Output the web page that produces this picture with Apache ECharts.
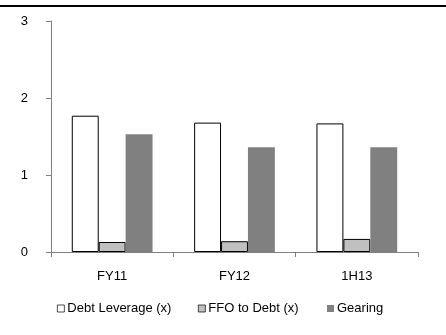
<!DOCTYPE html>
<html>
<head>
<meta charset="utf-8">
<script src="https://cdn.jsdelivr.net/npm/echarts@6/dist/echarts.min.js"></script>
<style>
html,body{margin:0;padding:0;background:#fff;}
#chart{width:446px;height:335px;}
</style>
</head>
<body>
<div id="chart"></div>
<script>
const categories = ['FY11', 'FY12', '1H13'];
const debtLeverage = [1.77, 1.68, 1.67];
const ffoToDebt = [0.13, 0.14, 0.17];
const gearing = [1.53, 1.36, 1.36];
const yTicks = [0, 1, 2, 3];
const seriesNames = ['Debt Leverage (x)', 'FFO to Debt (x)', 'Gearing'];

const FONT = '"Liberation Sans", Arial, sans-serif';
const legendLefts = [52, 193, 322];
const chart = echarts.init(document.getElementById('chart'), null, {renderer: 'canvas'});
chart.setOption({
  animation: false,
  backgroundColor: '#ffffff',
  textStyle: {fontFamily: FONT},
  graphic: [{
    type: 'rect', left: 0, top: 5,
    shape: {width: 446, height: 2},
    style: {fill: '#000000'}
  }],
  grid: {left: 51, right: 28, top: 21, bottom: 83, containLabel: false},
  legend: seriesNames.map((n, i) => ({
    left: legendLefts[i], top: 297,
    itemWidth: 7, itemHeight: 7, itemGap: 0,
    icon: 'rect',
    itemStyle: {borderWidth: i === 2 ? 0 : 0.7},
    textStyle: {fontFamily: FONT, fontSize: 13, color: '#000', padding: [0, 0, 0, -2]},
    data: [n]
  })),
  xAxis: {
    type: 'category',
    data: categories,
    axisLine: {lineStyle: {color: '#808080', width: 1}},
    axisTick: {show: true, length: 5, lineStyle: {color: '#808080'}},
    axisLabel: {fontFamily: FONT, fontSize: 13, color: '#000', margin: 18}
  },
  yAxis: {
    type: 'value',
    min: yTicks[0], max: yTicks[yTicks.length - 1], interval: 1,
    splitLine: {show: false},
    axisLine: {show: true, lineStyle: {color: '#808080', width: 1}},
    axisTick: {show: true, length: 5, lineStyle: {color: '#808080'}},
    axisLabel: {fontFamily: FONT, fontSize: 13, color: '#000', margin: 23}
  },
  series: [
    {
      name: seriesNames[0], type: 'bar', data: debtLeverage,
      barGap: '0%', barCategoryGap: '34%',
      itemStyle: {color: '#ffffff', borderColor: '#000000', borderWidth: 1}
    },
    {
      name: seriesNames[1], type: 'bar', data: ffoToDebt,
      itemStyle: {color: '#c0c0c0', borderColor: '#000000', borderWidth: 1}
    },
    {
      name: seriesNames[2], type: 'bar', data: gearing,
      itemStyle: {color: '#808080'}
    }
  ]
});
</script>
</body>
</html>
